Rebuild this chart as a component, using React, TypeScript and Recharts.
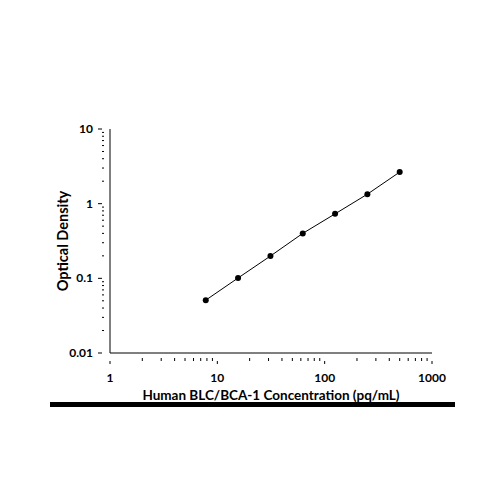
import { ScatterChart, Scatter, XAxis, YAxis, Label } from "recharts";

const concentrations = [7.8, 15.6, 31.25, 62.5, 125, 250, 500];
const odValues = [0.051, 0.101, 0.199, 0.4, 0.73, 1.34, 2.65];

const xTicks = [
  1, 2, 3, 4, 5, 6, 7, 8, 9, 10, 20, 30, 40, 50, 60, 70, 80, 90, 100, 200, 300,
  400, 500, 600, 700, 800, 900, 1000,
];
const yTicks = [
  0.01, 0.02, 0.03, 0.04, 0.05, 0.06, 0.07, 0.08, 0.09, 0.1, 0.2, 0.3, 0.4, 0.5,
  0.6, 0.7, 0.8, 0.9, 1, 2, 3, 4, 5, 6, 7, 8, 9, 10,
];
const xMajor = [1, 10, 100, 1000];
const yMajor = [0.01, 0.1, 1, 10];

const data = concentrations.map((c, i) => ({ x: c, y: odValues[i] }));

const FONT = "Lato, 'Liberation Sans', sans-serif";

function XTick(props: any) {
  const { x, y, payload } = props;
  const major = xMajor.includes(payload.value);
  return (
    <g>
      {major ? (
        <line x1={x} x2={x} y1={y} y2={y + 3} stroke="#000" strokeWidth={1} />
      ) : (
        <line x1={x} x2={x} y1={y} y2={y - 3} stroke="#000" strokeWidth={1} />
      )}
      {major && (
        <text
          x={x}
          y={y + 21}
          textAnchor="middle"
          fontSize={12}
          fontWeight={700}
          fontFamily={FONT}
          fill="#000"
        >
          {payload.value}
        </text>
      )}
    </g>
  );
}

function YTick(props: any) {
  const { x, y, payload } = props;
  const major = yMajor.includes(payload.value);
  return (
    <g>
      {major ? (
        <line x1={x - 4} x2={x} y1={y} y2={y} stroke="#000" strokeWidth={1} />
      ) : (
        <line x1={x} x2={x + 2} y1={y} y2={y} stroke="#000" strokeWidth={1} />
      )}
      {major && (
        <text
          x={x - 9}
          y={y + 4}
          textAnchor="end"
          fontSize={12}
          fontWeight={700}
          fontFamily={FONT}
          fill="#000"
        >
          {payload.value}
        </text>
      )}
    </g>
  );
}

export default function App() {
  return (
    <div
      style={{
        position: "absolute",
        left: 0,
        top: 0,
        width: 500,
        height: 500,
        background: "#fff",
      }}
    >
      <ScatterChart
        width={500}
        height={500}
        margin={{ top: 129, right: 68, bottom: 117, left: 50 }}
      >
        <XAxis
          type="number"
          dataKey="x"
          scale="log"
          domain={[1, 1000]}
          ticks={xTicks}
          interval={0}
          allowDataOverflow
          height={30}
          axisLine={{ stroke: "#000" }}
          tickLine={false}
          tick={<XTick />}
        >
          <Label
            value="Human BLC/BCA-1 Concentration (pq/mL)"
            position="bottom"
            offset={7}
            fontSize={13.5}
            fontWeight={700}
            fontFamily={FONT}
            fill="#000"
          />
        </XAxis>
        <YAxis
          type="number"
          dataKey="y"
          scale="log"
          domain={[0.01, 10]}
          ticks={yTicks}
          interval={0}
          allowDataOverflow
          width={60}
          axisLine={{ stroke: "#000" }}
          tickLine={false}
          tick={<YTick />}
        >
          <Label
            value="Optical Density"
            angle={-90}
            position="insideLeft"
            offset={13}
            textAnchor="middle"
            fontSize={14.5}
            fontWeight={700}
            fontFamily={FONT}
            fill="#000"
          />
        </YAxis>
        <Scatter
          data={data}
          fill="#000"
          line={{ stroke: "#000", strokeWidth: 1 }}
          shape={(p: any) => <circle cx={p.cx} cy={p.cy} r={3} fill="#000" />}
          isAnimationActive={false}
        />
      </ScatterChart>
      <div
        style={{
          position: "absolute",
          left: 50,
          top: 402,
          width: 405,
          height: 5,
          background: "#000",
        }}
      />
    </div>
  );
}
